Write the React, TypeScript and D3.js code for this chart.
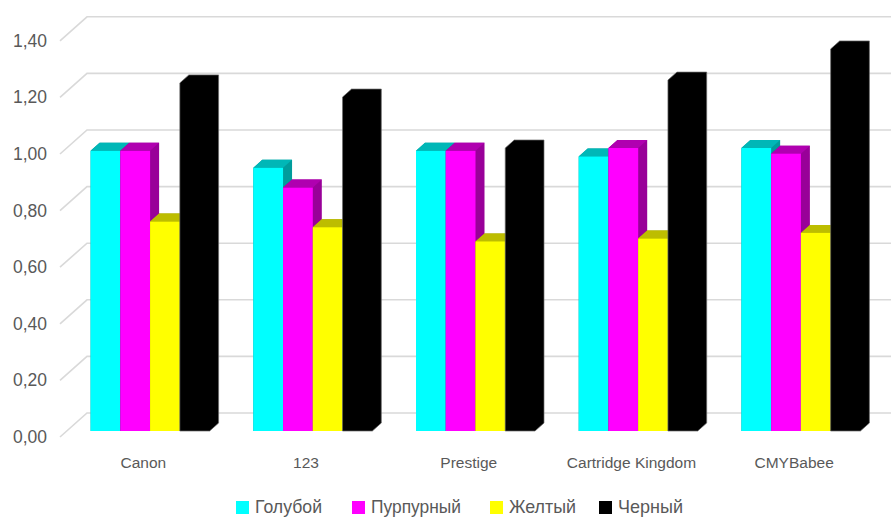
import React from "react";
import * as d3 from "d3";

const categories = ["Canon", "123", "Prestige", "Cartridge Kingdom", "CMYBabee"];
const seriesNames = ["Голубой", "Пурпурный", "Желтый", "Черный"];
const cyanValues = [0.99, 0.93, 0.99, 0.97, 1.0];
const magentaValues = [0.99, 0.86, 0.99, 1.0, 0.98];
const yellowValues = [0.74, 0.72, 0.67, 0.68, 0.7];
const blackValues = [1.23, 1.18, 1.0, 1.24, 1.35];
const yTicks = [0, 0.2, 0.4, 0.6, 0.8, 1.0, 1.2, 1.4];

const seriesValues = [cyanValues, magentaValues, yellowValues, blackValues];
const seriesFront = ["#00ffff", "#ff00ff", "#ffff00", "#000000"];
const seriesTop = ["#00b7b7", "#b000b0", "#bdbd00", "#000000"];
const seriesSide = ["#009c9c", "#990099", "#a3a300", "#000000"];

const W = 891;
const H = 517;
const wallDx = 27;
const wallDy = -24;
const barOffDx = 6.75;
const barOffDy = -6;
const barDx = 9;
const barDy = -8;
const legendX = [236, 352, 490, 599];
const legendTextW = [67, 90, 67, 65];

export default function App() {
  const y = d3.scaleLinear().domain([0, 1.4]).range([437, 437 - 1.4 * 283]);
  const x = d3
    .scaleBand<string>()
    .domain(categories)
    .range([62, 62 + 5 * 162.7])
    .paddingInner(0.2686)
    .paddingOuter(0.1343);
  const xs = d3.scaleBand<string>().domain(seriesNames).range([0, x.bandwidth()]);
  const fmt = (v: number) => d3.format(".2f")(v).replace(".", ",");

  const bars: React.ReactNode[] = [];
  categories.forEach((c, ci) => {
    seriesNames.forEach((s, si) => {
      const v = seriesValues[si][ci];
      const x0 = (x(c) as number) + (xs(s) as number) + barOffDx;
      const x1 = x0 + xs.bandwidth();
      const yb = y(0) + barOffDy;
      const yt = y(v) + barOffDy;
      const isBlack = si === 3;
      bars.push(
        <g key={c + s}>
          <polygon
            points={`${x0},${yb} ${x0},${yt} ${x0 + barDx},${yt + barDy} ${x1 + barDx},${yt + barDy} ${x1 + barDx},${yb + barDy} ${x1},${yb}`}
            fill={seriesSide[si]}
            stroke={isBlack ? "#6a6a6a" : "none"}
            strokeWidth={isBlack ? 0.7 : 0}
            strokeLinejoin="round"
          />
          {!isBlack && (
            <>
              <polygon
                points={`${x0},${yt} ${x0 + barDx},${yt + barDy} ${x1 + barDx},${yt + barDy} ${x1},${yt}`}
                fill={seriesTop[si]}
              />
              <rect x={x0} y={yt} width={x1 - x0} height={yb - yt} fill={seriesFront[si]} />
            </>
          )}
        </g>
      );
    });
  });

  return (
    <svg
      width={W}
      height={H}
      style={{ position: "absolute", left: 0, top: 0, display: "block", background: "#fff" }}
      fontFamily="'Liberation Sans', Arial, sans-serif"
    >
      <rect width={W} height={H} fill="#ffffff" />
      {yTicks.map((t) => (
        <g key={t}>
          <polyline
            points={`60,${y(t)} ${60 + wallDx},${y(t) + wallDy} ${W},${y(t) + wallDy}`}
            fill="none"
            stroke="#d9d9d9"
            strokeWidth={1.6}
          />
          <text
            x={47}
            y={y(t)}
            textAnchor="end"
            dominantBaseline="central"
            fontSize={17.5}
            fill="#595959"
          >
            {fmt(t)}
          </text>
        </g>
      ))}
      {bars}
      {categories.map((c) => (
        <text
          key={c}
          x={(x(c) as number) + x.bandwidth() / 2}
          y={468}
          textAnchor="middle"
          fontSize={15.5}
          fill="#595959"
        >
          {c}
        </text>
      ))}
      {seriesNames.map((s, i) => (
        <g key={s}>
          <rect x={legendX[i]} y={501} width={13} height={13} fill={seriesFront[i]} />
          <text
            x={legendX[i] + 19}
            y={513}
            fontSize={19}
            fill="#595959"
            textLength={legendTextW[i]}
            lengthAdjust="spacingAndGlyphs"
          >
            {s}
          </text>
        </g>
      ))}
    </svg>
  );
}
